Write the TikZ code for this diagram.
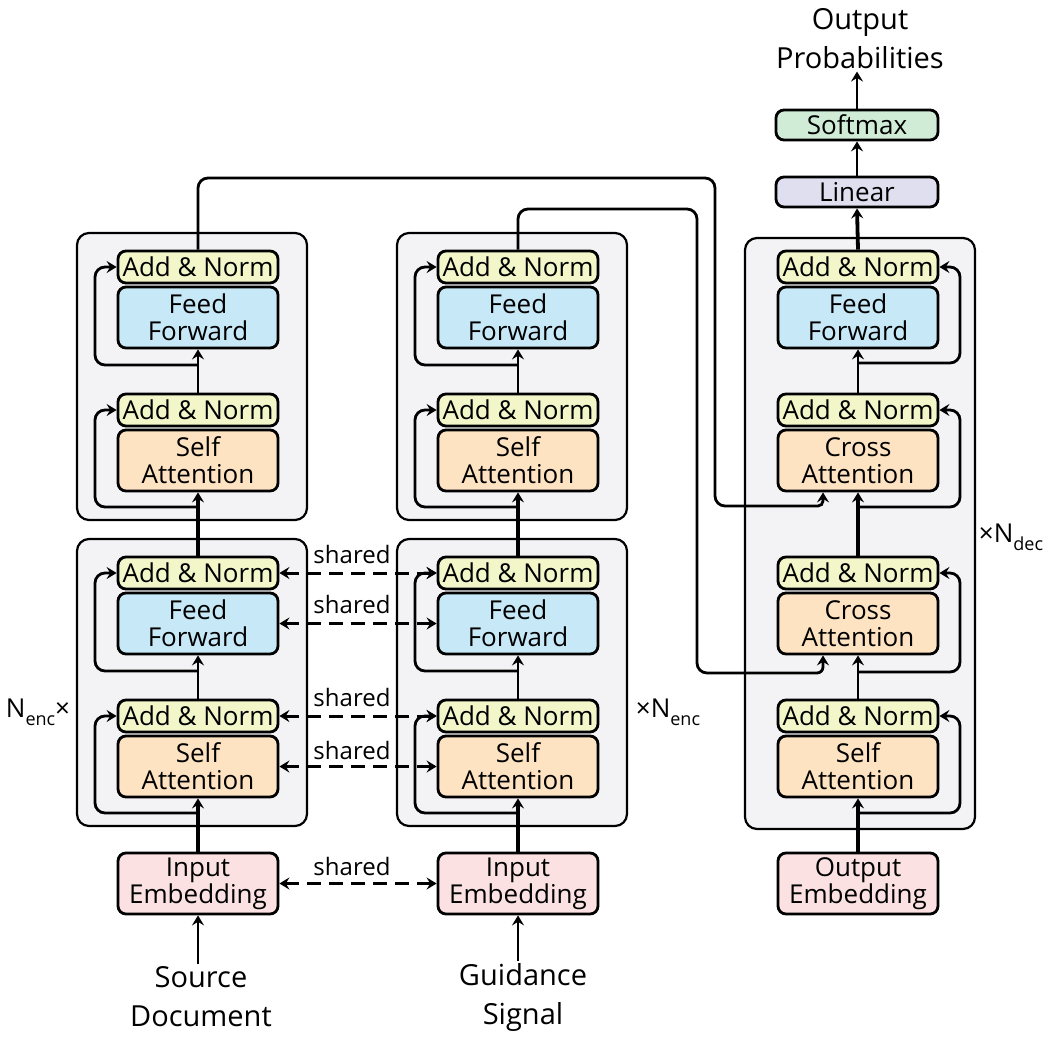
\documentclass[tikz,border=0pt]{standalone}
\usepackage{fontspec}
\setmainfont{Open Sans}
\usetikzlibrary{arrows.meta}
\definecolor{cAN}{HTML}{F2F6C8}
\definecolor{cFF}{HTML}{C6E8F7}
\definecolor{cAT}{HTML}{FDE3C1}
\definecolor{cEM}{HTML}{FBE1E1}
\definecolor{cSM}{HTML}{D0ECD6}
\definecolor{cLN}{HTML}{DFDFF0}
\definecolor{cOut}{HTML}{F3F3F5}
\begin{document}
\begin{tikzpicture}[x=0.5pt,y=-0.5pt,
  box/.style={draw, line width=1.4pt, rounded corners=4pt, minimum width=80pt, inner sep=0pt, align=center, font=\fontsize{13}{13.5}\selectfont},
  an/.style={box, fill=cAN, minimum height=16pt},
  ff/.style={box, fill=cFF, minimum height=30.5pt},
  att/.style={box, fill=cAT, minimum height=30.5pt},
  emb/.style={box, fill=cEM, minimum height=30.5pt},
  smx/.style={box, fill=cSM, minimum width=81pt, minimum height=15pt},
  lin/.style={box, fill=cLN, minimum width=81pt, minimum height=15pt},
  outer/.style={draw, line width=1.1pt, fill=cOut, rounded corners=6pt, minimum width=115pt, inner sep=0pt},
  conn/.style={line width=1.4pt, rounded corners=5pt},
  tip/.tip={Stealth[length=5pt,width=6pt,inset=1.8pt]},
  arr/.style={conn, -tip},
  thk/.style={arr, line width=1.9pt},
  shr/.style={line width=1.5pt, dash pattern=on 7pt off 4pt, tip-tip},
  captxt/.style={align=center, inner sep=1pt, font=\fontsize{14.5}{19.5}\selectfont},
  shtxt/.style={inner sep=0pt, font=\fontsize{12}{13}\selectfont},
  reptxt/.style={inner sep=0pt, font=\fontsize{13}{14}\selectfont}
]
\useasboundingbox (0,0) rectangle (1059,1039);

% outer blocks
\node[outer, minimum height=143.5pt] (e1top) at (192,376.5) {};
\node[outer, minimum height=143.5pt] (e1bot) at (192,682.5) {};
\node[outer, minimum height=143.5pt] (e2top) at (512,376.5) {};
\node[outer, minimum height=143.5pt] (e2bot) at (512,682.5) {};
\node[outer, minimum height=295.5pt] (dec) at (860,533.5) {};

% encoder 1
\node[an]  (a-an4) at (198,267) {Add \& Norm};
\node[ff]  (a-ff2) at (198,317.5) {Feed\\Forward};
\node[an]  (a-an3) at (198,410) {Add \& Norm};
\node[att] (a-sa2) at (198,460.5) {Self\\Attention};
\node[an]  (a-an2) at (198,573) {Add \& Norm};
\node[ff]  (a-ff1) at (198,623.5) {Feed\\Forward};
\node[an]  (a-an1) at (198,716) {Add \& Norm};
\node[att] (a-sa1) at (198,766.5) {Self\\Attention};
\node[emb] (a-emb) at (198,883.5) {Input\\Embedding};
\node[captxt] (src) at (201,997) {Source\\Document};

% encoder 2
\node[an]  (b-an4) at (518,267) {Add \& Norm};
\node[ff]  (b-ff2) at (518,317.5) {Feed\\Forward};
\node[an]  (b-an3) at (518,410) {Add \& Norm};
\node[att] (b-sa2) at (518,460.5) {Self\\Attention};
\node[an]  (b-an2) at (518,573) {Add \& Norm};
\node[ff]  (b-ff1) at (518,623.5) {Feed\\Forward};
\node[an]  (b-an1) at (518,716) {Add \& Norm};
\node[att] (b-sa1) at (518,766.5) {Self\\Attention};
\node[emb] (b-emb) at (518,883.5) {Input\\Embedding};
\node[captxt] (gui) at (523,997) {Guidance\\Signal};

% decoder
\node[an]  (d-an4) at (858,267) {Add \& Norm};
\node[ff]  (d-ff)  at (858,317.5) {Feed\\Forward};
\node[an]  (d-an3) at (858,410) {Add \& Norm};
\node[att] (d-ca2) at (858,460.5) {Cross\\Attention};
\node[an]  (d-an2) at (858,573) {Add \& Norm};
\node[att] (d-ca1) at (858,623.5) {Cross\\Attention};
\node[an]  (d-an1) at (858,716) {Add \& Norm};
\node[att] (d-sa)  at (858,766.5) {Self\\Attention};
\node[emb] (d-emb) at (858,883.5) {Output\\Embedding};
\node[lin] (lin) at (857,192) {Linear};
\node[smx] (smx) at (857,125) {Softmax};
\node[captxt] (outp) at (860,39) {Output\\Probabilities};

% repetition labels
\node[reptxt] (nl) at (38,712) {N\raisebox{-0.55ex}{\fontsize{9}{10}\selectfont enc}×};
\node[reptxt] (nr) at (668,712) {×N\raisebox{-0.55ex}{\fontsize{9}{10}\selectfont enc}};
\node[reptxt] (nd) at (1011,537) {×N\raisebox{-0.55ex}{\fontsize{9}{10}\selectfont dec}};

% encoder vertical flow
\foreach \p/\x in {a/198,b/518}{
  \draw[thk] (\p-emb.north) -- (\p-sa1.south);
  \draw[arr] (\p-an1.north) -- (\p-ff1.south);
  \draw[thk] (\p-an2.north) -- (\p-sa2.south);
  \draw[arr] (\p-an3.north) -- (\p-ff2.south);
  \draw[arr] (\x,813) -- ({\x-103},813) |- (\p-an1.west);
  \draw[arr] (\x,671) -- ({\x-103},671) |- (\p-an2.west);
  \draw[arr] (\x,507) -- ({\x-103},507) |- (\p-an3.west);
  \draw[arr] (\x,365) -- ({\x-103},365) |- (\p-an4.west);
}
\draw[arr] (src.north -| a-emb.south) -- (a-emb.south);
\draw[arr] (gui.north -| b-emb.south) -- (b-emb.south);

% decoder vertical flow
\draw[thk] (d-emb.north) -- (d-sa.south);
\draw[arr] (d-an1.north) -- (d-ca1.south);
\draw[thk] (d-an2.north) -- (d-ca2.south);
\draw[arr] (d-an3.north) -- (d-ff.south);
\draw[thk] (d-an4.north) -- (lin.south);
\draw[arr] (lin.north) -- (smx.south);
\draw[arr] (smx.north) -- (outp.south -| smx.north);
\draw[arr] (858,813) -- (960,813) |- (d-an1.east);
\draw[arr] (858,672) -- (960,672) |- (d-an2.east);
\draw[arr] (858,507) -- (960,507) |- (d-an3.east);
\draw[arr] (858,363) -- (960,363) |- (d-an4.east);

% encoder memories to decoder
\coordinate (m1) at (823,506);
\coordinate (m2) at (823,673);
\draw[arr] (a-an4.north) -- (198,178) -- (715,178) -- (715,506) [rounded corners=2.5pt] -- (m1) -- (m1 |- d-ca2.south);
\draw[arr] (b-an4.north) -- (518,209) -- (697,209) -- (697,673) [rounded corners=3pt] -- (m2) -- (m2 |- d-ca1.south);

% shared parameters
\draw[shr] (a-an2.east) -- (b-an2.west);
\draw[shr] (a-ff1.east) -- (b-ff1.west);
\draw[shr] (a-an1.east) -- (b-an1.west);
\draw[shr] (a-sa1.east) -- (b-sa1.west);
\draw[shr] (a-emb.east) -- (b-emb.west);
\node[shtxt] (s1) at (352,554) {shared};
\node[shtxt] (s2) at (352,604) {shared};
\node[shtxt] (s3) at (352,697) {shared};
\node[shtxt] (s4) at (352,750) {shared};
\node[shtxt] (s5) at (352,866) {shared};
\end{tikzpicture}
\end{document}
